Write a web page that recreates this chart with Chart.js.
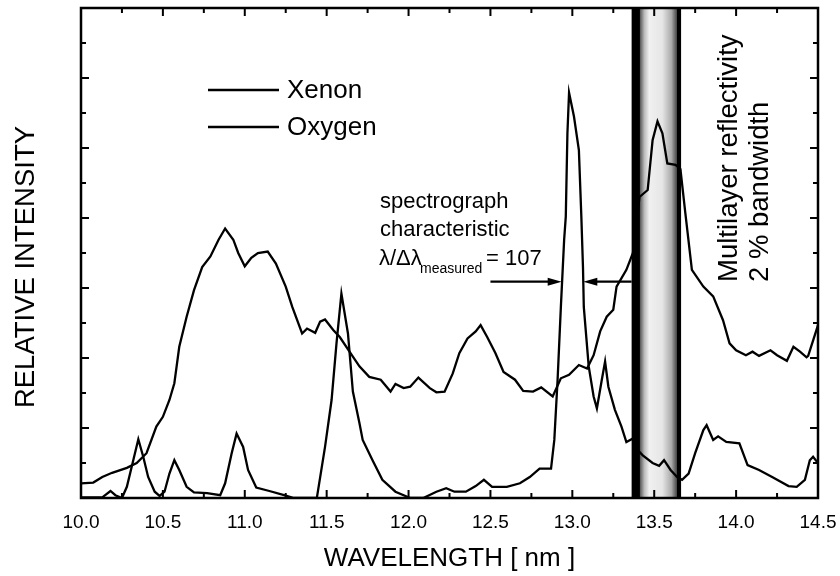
<!DOCTYPE html>
<html>
<head>
<meta charset="utf-8">
<title>Xenon / Oxygen spectrum</title>
<script src="https://cdn.jsdelivr.net/npm/chart.js@4.4.1/dist/chart.umd.min.js"></script>
<style>
  html, body { margin: 0; padding: 0; background: #fff; }
  #wrap { width: 840px; height: 576px; }
</style>
</head>
<body>
<div id="wrap"><canvas id="chart" width="840" height="576"></canvas></div>
<script>
// Data
const xenonWl = [10.00, 10.075, 10.13, 10.19, 10.28, 10.34, 10.40, 10.46, 10.50, 10.54, 10.57, 10.60, 10.645, 10.69, 10.74, 10.79, 10.84, 10.88, 10.93, 10.96, 11.00, 11.04, 11.08, 11.14, 11.19, 11.25, 11.29, 11.35, 11.38, 11.43, 11.46, 11.49, 11.54, 11.58, 11.66, 11.70, 11.76, 11.83, 11.89, 11.92, 11.97, 12.01, 12.06, 12.13, 12.17, 12.22, 12.27, 12.31, 12.36, 12.41, 12.44, 12.48, 12.53, 12.58, 12.65, 12.70, 12.76, 12.81, 12.88, 12.93, 12.98, 13.04, 13.09, 13.13, 13.17, 13.21, 13.25, 13.27, 13.33, 13.37, 13.41, 13.46, 13.49, 13.52, 13.55, 13.58, 13.63, 13.66, 13.69, 13.73, 13.80, 13.86, 13.92, 13.96, 14.00, 14.06, 14.10, 14.14, 14.21, 14.25, 14.31, 14.35, 14.39, 14.43, 14.44, 14.50];
const xenonInt = [0.21, 0.22, 0.30, 0.36, 0.43, 0.50, 0.64, 1.02, 1.16, 1.40, 1.64, 2.16, 2.59, 2.97, 3.30, 3.45, 3.69, 3.85, 3.69, 3.50, 3.31, 3.43, 3.50, 3.52, 3.35, 3.02, 2.73, 2.35, 2.42, 2.36, 2.52, 2.55, 2.40, 2.30, 2.02, 1.88, 1.73, 1.69, 1.52, 1.63, 1.57, 1.59, 1.72, 1.57, 1.51, 1.52, 1.78, 2.07, 2.28, 2.38, 2.47, 2.30, 2.07, 1.80, 1.69, 1.53, 1.52, 1.58, 1.45, 1.71, 1.76, 1.90, 1.85, 2.04, 2.38, 2.59, 2.69, 3.02, 3.26, 3.50, 4.30, 4.40, 5.11, 5.38, 5.21, 4.78, 4.76, 4.70, 4.07, 3.26, 3.02, 2.88, 2.54, 2.21, 2.11, 2.04, 2.09, 2.03, 2.11, 2.04, 1.96, 2.16, 2.09, 2.01, 2.03, 2.47];

const oxygenWl = [10.00, 10.13, 10.18, 10.21, 10.25, 10.28, 10.31, 10.35, 10.38, 10.41, 10.45, 10.48, 10.51, 10.54, 10.57, 10.60, 10.645, 10.69, 10.77, 10.85, 10.88, 10.92, 10.95, 10.99, 11.02, 11.07, 11.15, 11.24, 11.30, 11.44, 11.49, 11.53, 11.56, 11.59, 11.63, 11.66, 11.70, 11.72, 11.78, 11.84, 11.92, 12.01, 12.09, 12.17, 12.23, 12.28, 12.35, 12.41, 12.46, 12.51, 12.60, 12.68, 12.74, 12.80, 12.87, 12.89, 12.91, 12.93, 12.95, 12.96, 12.97, 12.98, 13.01, 13.04, 13.055, 13.065, 13.07, 13.10, 13.13, 13.15, 13.18, 13.20, 13.22, 13.26, 13.30, 13.33, 13.37, 13.38, 13.43, 13.49, 13.53, 13.56, 13.60, 13.64, 13.67, 13.71, 13.75, 13.80, 13.82, 13.86, 13.89, 13.94, 14.02, 14.07, 14.14, 14.22, 14.32, 14.37, 14.42, 14.45, 14.47, 14.50];
const oxygenInt = [0.01, 0.01, 0.10, 0.04, 0.00, 0.16, 0.45, 0.84, 0.59, 0.30, 0.09, 0.03, 0.09, 0.35, 0.54, 0.40, 0.16, 0.08, 0.07, 0.04, 0.21, 0.64, 0.92, 0.73, 0.40, 0.15, 0.10, 0.04, 0.00, 0.00, 0.73, 1.40, 2.21, 2.92, 2.35, 1.52, 1.07, 0.83, 0.54, 0.26, 0.09, 0.00, 0.00, 0.09, 0.14, 0.09, 0.09, 0.17, 0.26, 0.16, 0.16, 0.21, 0.30, 0.42, 0.42, 0.83, 1.69, 2.73, 3.69, 4.02, 5.21, 5.79, 5.45, 4.97, 4.02, 3.30, 2.73, 1.88, 1.45, 1.28, 1.69, 1.95, 1.59, 1.26, 1.02, 0.80, 0.85, 0.73, 0.61, 0.50, 0.46, 0.54, 0.40, 0.30, 0.26, 0.35, 0.64, 0.97, 1.04, 0.83, 0.88, 0.80, 0.78, 0.47, 0.40, 0.30, 0.17, 0.16, 0.26, 0.54, 0.59, 0.50];

const seriesNames = ["Xenon", "Oxygen"];
const xTickLabels = ["10.0", "10.5", "11.0", "11.5", "12.0", "12.5", "13.0", "13.5", "14.0", "14.5"];

// mirror band (nm) : dark edges + stippled middle
const bandStart = 13.362;
const bandInner = 13.413;
const bandOuter = 13.639;
const bandEnd = 13.664;

const FONT = "'Liberation Sans', Arial, Helvetica, sans-serif";

function toPoints(xs, ys) {
  return xs.map((x, i) => ({ x: x, y: ys[i] }));
}

// Band behind the curves
const bandPlugin = {
  id: "band",
  beforeDatasetsDraw(chart) {
    const { ctx, chartArea, scales } = chart;
    const x = scales.x;
    const a = x.getPixelForValue(bandStart);
    const b = x.getPixelForValue(bandInner);
    const c = x.getPixelForValue(bandOuter);
    const d = x.getPixelForValue(bandEnd);
    ctx.save();
    ctx.fillStyle = "#000";
    ctx.fillRect(a, chartArea.top, b - a, chartArea.height);
    const g = ctx.createLinearGradient(b, 0, c, 0);
    g.addColorStop(0, "#555");
    g.addColorStop(0.12, "#bbb");
    g.addColorStop(0.25, "#f0f0f0");
    g.addColorStop(0.6, "#e6e6e6");
    g.addColorStop(0.85, "#aaa");
    g.addColorStop(1, "#444");
    ctx.fillStyle = g;
    ctx.fillRect(b, chartArea.top, c - b, chartArea.height);
    ctx.fillStyle = "#000";
    ctx.fillRect(c, chartArea.top, d - c, chartArea.height);
    ctx.restore();
  }
};

// Frame, inward ticks, legend and annotations
const decorPlugin = {
  id: "decor",
  afterDraw(chart) {
    const { ctx, chartArea, scales } = chart;
    const x = scales.x, y = scales.y;
    const L = chartArea.left, R = chartArea.right, T = chartArea.top, B = chartArea.bottom;
    ctx.save();
    ctx.strokeStyle = "#000";
    ctx.fillStyle = "#000";

    // ticks
    ctx.lineWidth = 2;
    ctx.beginPath();
    for (let i = 0; i <= 18; i++) {
      const v = 10 + i * 0.25;
      const px = x.getPixelForValue(v);
      const len = i % 2 === 0 ? 8 : 5;
      ctx.moveTo(px, B); ctx.lineTo(px, B - len);
      ctx.moveTo(px, T); ctx.lineTo(px, T + len);
    }
    for (let i = 0; i <= 14; i++) {
      const py = y.getPixelForValue(i * 0.5);
      const len = i % 2 === 0 ? 8 : 5;
      ctx.moveTo(L, py); ctx.lineTo(L + len, py);
      ctx.moveTo(R, py); ctx.lineTo(R - len, py);
    }
    ctx.stroke();

    // frame
    ctx.lineWidth = 2.5;
    ctx.strokeRect(L, T, R - L, B - T);

    // y axis title (sits a little below the plot centre in the original)
    ctx.save();
    ctx.font = "27.5px " + FONT;
    ctx.textAlign = "center";
    ctx.textBaseline = "middle";
    ctx.translate(26, 267);
    ctx.rotate(-Math.PI / 2);
    ctx.fillText(y.options.title.text, 0, 0);
    ctx.restore();

    // legend
    ctx.lineWidth = 2.3;
    ctx.font = "26px " + FONT;
    ctx.textBaseline = "middle";
    ctx.textAlign = "left";
    chart.data.datasets.forEach((ds, i) => {
      const ly = 90 + i * 37;
      ctx.beginPath();
      ctx.moveTo(208, ly); ctx.lineTo(279, ly);
      ctx.stroke();
      ctx.fillText(ds.label, 287, ly + 1);
    });

    // spectrograph annotation
    ctx.textBaseline = "alphabetic";
    ctx.font = "22px " + FONT;
    ctx.fillText("spectrograph", 380, 208);
    ctx.fillText("characteristic", 380, 236);
    ctx.font = "22px " + FONT;
    ctx.fillText("\u03bb/\u0394\u03bb", 379, 265);
    ctx.font = "14px " + FONT;
    ctx.fillText("measured", 420, 273);
    ctx.font = "22px " + FONT;
    ctx.fillText("= 107", 486, 265);

    // arrows (in data units)
    const ay = y.getPixelForValue(3.09);
    const arrow = (from, to) => {
      const x0 = x.getPixelForValue(from), x1 = x.getPixelForValue(to);
      const dir = x1 > x0 ? 1 : -1;
      ctx.lineWidth = 2.2;
      ctx.beginPath();
      ctx.moveTo(x0, ay); ctx.lineTo(x1 - dir * 10, ay);
      ctx.stroke();
      ctx.beginPath();
      ctx.moveTo(x1, ay);
      ctx.lineTo(x1 - dir * 14, ay - 4);
      ctx.lineTo(x1 - dir * 14, ay + 4);
      ctx.closePath();
      ctx.fill();
    };
    arrow(12.50, 12.935);
    arrow(13.362, 13.067);

    // rotated band label
    ctx.save();
    ctx.font = "27.5px " + FONT;
    ctx.textBaseline = "middle";
    ctx.translate(729, 282);
    ctx.rotate(-Math.PI / 2);
    ctx.fillText("Multilayer reflectivity", 0, 0);
    ctx.fillText("2 % bandwidth", 0, 31);
    ctx.restore();

    ctx.restore();
  }
};

const chart = new Chart(document.getElementById("chart"), {
  type: "scatter",
  data: {
    datasets: [
      {
        label: seriesNames[0],
        data: toPoints(xenonWl, xenonInt),
        showLine: true,
        borderColor: "#000",
        borderWidth: 2.3,
        pointRadius: 0,
        tension: 0
      },
      {
        label: seriesNames[1],
        data: toPoints(oxygenWl, oxygenInt),
        showLine: true,
        borderColor: "#000",
        borderWidth: 2.3,
        pointRadius: 0,
        tension: 0
      }
    ]
  },
  options: {
    responsive: false,
    animation: false,
    events: [],
    layout: { padding: { top: 8, right: 22, left: 0, bottom: 0 } },
    plugins: {
      legend: { display: false },
      tooltip: { enabled: false }
    },
    scales: {
      x: {
        type: "linear",
        min: 10,
        max: 14.5,
        afterBuildTicks(scale) {
          scale.ticks = xTickLabels.map((t) => ({ value: parseFloat(t) }));
        },
        afterFit(scale) {
          scale.height = 78;
          scale.paddingLeft = 0;
          scale.paddingRight = 0;
        },
        grid: { display: false, drawTicks: false },
        border: { display: false },
        ticks: {
          padding: 13,
          color: "#000",
          font: { size: 19, family: FONT },
          maxRotation: 0,
          callback: (v) => xTickLabels.find((t) => parseFloat(t) === v) || ""
        },
        title: {
          display: true,
          text: "WAVELENGTH [ nm ]",
          color: "#000",
          font: { size: 26, family: FONT },
          padding: { top: 0, bottom: 2 }
        }
      },
      y: {
        type: "linear",
        min: 0,
        max: 7,
        afterFit(scale) { scale.width = 81; },
        grid: { display: false, drawTicks: false },
        border: { display: false },
        ticks: { display: false },
        // text kept here, drawn by the decor plugin so it can sit off-centre
        title: {
          display: false,
          text: "RELATIVE INTENSITY"
        }
      }
    }
  },
  plugins: [bandPlugin, decorPlugin]
});
</script>
</body>
</html>
